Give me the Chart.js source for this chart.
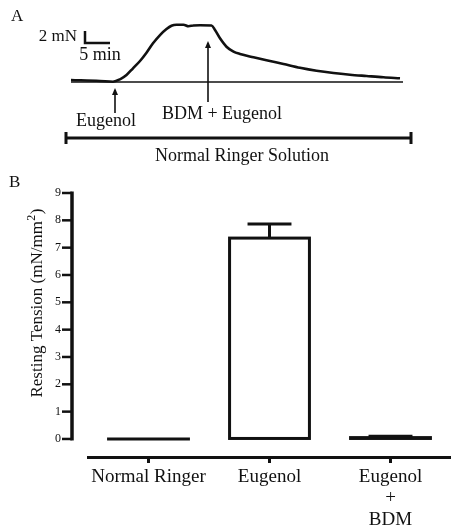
<!DOCTYPE html>
<html><head><meta charset="utf-8">
<script src="https://cdn.jsdelivr.net/npm/chart.js@4.4.1/dist/chart.umd.min.js"></script>
<style>
html,body{margin:0;padding:0;background:#fff;}
#wrap{position:relative;width:451px;height:526px;overflow:hidden;background:#fff;}
#ca{position:absolute;left:0;top:0;}
#cb{position:absolute;left:0;top:170px;}
</style></head><body>
<div id="wrap">
<canvas id="ca" width="451" height="170"></canvas>
<canvas id="cb" width="451" height="356"></canvas>
</div>
<script>
// ---------- Panel A: tension trace ----------
const traceTime    = [0, 5.8, 8.4, 9.8, 11.1, 12.4, 13.8, 15.1, 16.4, 17.8, 19.1, 20.1, 21.1, 22.5, 23.5, 24.5, 25.8, 28.1, 28.8, 29.8, 31.1, 32.5, 33.8, 36.5, 39.1, 42.5, 45.8, 49.1, 52.5, 55.8, 59.1, 62.5, 65.8];
const traceTension = [0.33, 0.17, 0.05, 0.45, 1.17, 2.28, 3.5, 4.88, 6.45, 7.83, 8.83, 9.38, 9.55, 9.55, 9.3, 9.42, 9.45, 9.42, 8.67, 7.28, 5.88, 5.05, 4.67, 4.12, 3.62, 3.0, 2.38, 1.88, 1.5, 1.22, 1.0, 0.78, 0.62];
const baselineTime = [0, 66.4];
const baselineTension = [0, 0];
const eugenolTime = 8.8;
const bdmTime = 27.4;
const scaleBarMinutes = 5;
const scaleBarTension = 2;

// ---------- Panel B: resting tension ----------
const categories = [['Normal Ringer'], ['Eugenol'], ['Eugenol', '+', 'BDM']];
const meanTension = [0, 7.35, 0.05];
const semTension = [0, 0.52, 0.05];
const yTicks = [0, 1, 2, 3, 4, 5, 6, 7, 8, 9];

const SERIF = '"Liberation Serif", "DejaVu Serif", serif';
const INK = '#111';

const panelAPlugin = {
  id: 'panelA',
  afterDraw(chart) {
    const ctx = chart.ctx, xs = chart.scales.x, ys = chart.scales.y;
    ctx.save();
    ctx.fillStyle = INK; ctx.strokeStyle = INK;
    ctx.textBaseline = 'middle'; ctx.textAlign = 'left';
    ctx.font = '17px ' + SERIF;
    ctx.fillText('A', 11, 17);
    // scale bar
    const sx0 = xs.getPixelForValue(2.8), sx1 = xs.getPixelForValue(2.8 + scaleBarMinutes);
    const sy0 = ys.getPixelForValue(6.5), sy1 = ys.getPixelForValue(6.5 + scaleBarTension);
    ctx.lineWidth = 2.5; ctx.lineCap = 'butt';
    ctx.beginPath(); ctx.moveTo(sx0, sy1); ctx.lineTo(sx0, sy0); ctx.lineTo(sx1, sy0); ctx.stroke();
    ctx.textAlign = 'right';
    ctx.font = '17px ' + SERIF;
    ctx.fillText('2 mN', sx0 - 8, 37);
    ctx.textAlign = 'center';
    ctx.font = '18px ' + SERIF;
    ctx.fillText('5 min', 100, 55);
    // arrows
    function arrow(x, yTip, yEnd) {
      ctx.lineWidth = 1.6;
      ctx.beginPath(); ctx.moveTo(x, yTip + 2); ctx.lineTo(x, yEnd); ctx.stroke();
      ctx.beginPath(); ctx.moveTo(x, yTip); ctx.lineTo(x - 3, yTip + 7); ctx.lineTo(x + 3, yTip + 7); ctx.closePath(); ctx.fill();
    }
    arrow(xs.getPixelForValue(eugenolTime), 88, 113);
    arrow(xs.getPixelForValue(bdmTime), 41, 102);
    ctx.font = '18px ' + SERIF;
    ctx.fillText('Eugenol', 106, 121);
    ctx.fillText('BDM + Eugenol', 222, 114);
    // solution bar
    ctx.lineWidth = 3;
    ctx.beginPath(); ctx.moveTo(65, 138); ctx.lineTo(412, 138); ctx.stroke();
    ctx.beginPath(); ctx.moveTo(66, 132); ctx.lineTo(66, 144); ctx.moveTo(411, 132); ctx.lineTo(411, 144); ctx.stroke();
    ctx.fillText('Normal Ringer Solution', 242, 156);
    ctx.restore();
  }
};

new Chart(document.getElementById('ca'), {
  type: 'line',
  data: {
    datasets: [
      { data: traceTime.map((t, i) => ({ x: t, y: traceTension[i] })), borderColor: INK, borderWidth: 2.6, pointRadius: 0, cubicInterpolationMode: 'monotone', fill: false },
      { data: baselineTime.map((t, i) => ({ x: t, y: baselineTension[i] })), borderColor: INK, borderWidth: 1.3, pointRadius: 0, fill: false }
    ]
  },
  options: {
    responsive: false, animation: false, events: [],
    layout: { padding: 0 },
    plugins: { legend: { display: false }, tooltip: { enabled: false } },
    scales: {
      x: { type: 'linear', display: false, min: -14.2, max: 76 },
      y: { type: 'linear', display: false, min: -14.667, max: 13.667 }
    }
  },
  plugins: [panelAPlugin]
});

const panelBPlugin = {
  id: 'panelB',
  afterDatasetsDraw(chart) {
    const ctx = chart.ctx, ys = chart.scales.y;
    const meta = chart.getDatasetMeta(0);
    ctx.save();
    ctx.strokeStyle = INK; ctx.fillStyle = INK;
    meta.data.forEach((bar, i) => {
      const p = bar.getProps(['x', 'y', 'base', 'width'], true);
      const w = p.width;
      ctx.lineWidth = 3; ctx.lineJoin = 'miter';
      if (Math.abs(p.base - p.y) < 0.5) {
        ctx.lineCap = 'square';
        ctx.beginPath(); ctx.moveTo(p.x - w / 2, p.y); ctx.lineTo(p.x + w / 2, p.y); ctx.stroke();
        ctx.lineCap = 'butt';
      } else {
        ctx.strokeRect(p.x - w / 2, p.y, w, p.base - p.y);
      }
      if (semTension[i] > 0) {
        const yt = ys.getPixelForValue(meanTension[i] + semTension[i]);
        ctx.lineWidth = 3;
        ctx.beginPath(); ctx.moveTo(p.x, p.y); ctx.lineTo(p.x, yt); ctx.stroke();
        ctx.beginPath(); ctx.moveTo(p.x - w * 0.275, yt); ctx.lineTo(p.x + w * 0.275, yt); ctx.stroke();
      }
    });
    ctx.restore();
  },
  afterDraw(chart) {
    const ctx = chart.ctx, ys = chart.scales.y;
    ctx.save();
    ctx.strokeStyle = INK; ctx.fillStyle = INK;
    // y axis line and ticks
    const axX = 72;
    const y0 = ys.getPixelForValue(yTicks[0]), y9 = ys.getPixelForValue(yTicks[yTicks.length - 1]);
    ctx.lineWidth = 3.5;
    ctx.beginPath(); ctx.moveTo(axX, y0 + 1.5); ctx.lineTo(axX, y9 - 1.5); ctx.stroke();
    ctx.lineWidth = 2.5;
    yTicks.forEach(v => {
      const yy = ys.getPixelForValue(v);
      ctx.beginPath(); ctx.moveTo(62, yy); ctx.lineTo(axX, yy); ctx.stroke();
    });
    // panel label
    ctx.font = '17px ' + SERIF; ctx.textBaseline = 'middle'; ctx.textAlign = 'left';
    ctx.fillText('B', 9, 13);
    // y title with superscript
    ctx.translate(37, 133);
    ctx.rotate(-Math.PI / 2);
    const main = 'Resting Tension (mN/mm', sup = '2', close = ')';
    ctx.font = '17px ' + SERIF;
    const wMain = ctx.measureText(main).width, wClose = ctx.measureText(close).width;
    ctx.font = '12px ' + SERIF;
    const wSup = ctx.measureText(sup).width;
    const total = wMain + wSup + wClose + 1;
    let x = -total / 2;
    ctx.textAlign = 'left';
    ctx.font = '17px ' + SERIF;
    ctx.fillText(main, x, 1); x += wMain;
    ctx.font = '12px ' + SERIF;
    ctx.fillText(sup, x + 0.5, -5); x += wSup + 1;
    ctx.font = '17px ' + SERIF;
    ctx.fillText(close, x, 1);
    ctx.restore();
  }
};

new Chart(document.getElementById('cb'), {
  type: 'bar',
  data: {
    labels: categories,
    datasets: [{ data: meanTension, backgroundColor: 'rgba(0,0,0,0)', borderWidth: 0, barPercentage: 0.66, categoryPercentage: 1 }]
  },
  options: {
    responsive: false, animation: false, events: [],
    layout: { padding: { top: 23, left: 0, right: 0, bottom: 0 } },
    plugins: { legend: { display: false }, tooltip: { enabled: false } },
    scales: {
      x: {
        offset: true,
        border: { display: true, width: 3, color: INK },
        grid: { display: true, drawOnChartArea: false, drawTicks: true, tickLength: 6, lineWidth: 3, color: INK, offset: false },
        ticks: { color: INK, padding: 3, maxRotation: 0, autoSkip: false, font: { family: SERIF, size: 19, lineHeight: 1.13 } },
        afterFit: s => { s.height = 69; }
      },
      y: {
        min: -0.66, max: 9,
        border: { display: false },
        grid: { display: true, drawOnChartArea: false, drawTicks: true, tickLength: 24, color: 'rgba(0,0,0,0)' },
        afterBuildTicks: s => { s.ticks = yTicks.map(v => ({ value: v })); },
        ticks: { color: INK, padding: 3, font: { family: SERIF, size: 12 } },
        afterFit: s => { s.width = 88; }
      }
    }
  },
  plugins: [panelBPlugin]
});
</script>
</body></html>
